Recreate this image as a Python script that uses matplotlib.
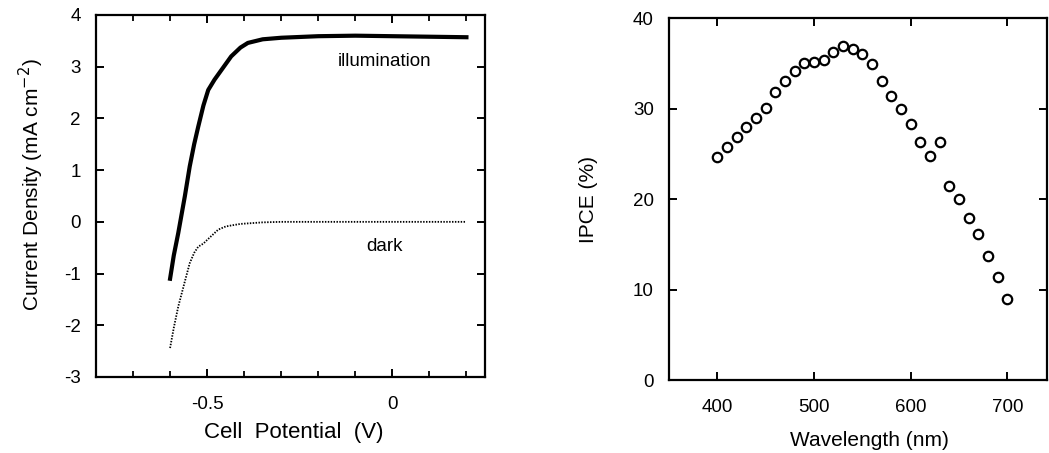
import numpy as np
import matplotlib
matplotlib.use("Agg")
import matplotlib.pyplot as plt
from matplotlib.ticker import MultipleLocator

plt.rcParams['font.family'] = ['Liberation Sans', 'DejaVu Sans']
plt.rcParams['axes.unicode_minus'] = False

# J-V curves
v_illum = [-0.60, -0.59, -0.578, -0.56, -0.547, -0.535, -0.524, -0.51, -0.497,
           -0.48, -0.47, -0.45, -0.435, -0.41, -0.39, -0.35, -0.30, -0.20,
           -0.10, 0.0, 0.1, 0.2]
j_illum = [-1.1, -0.65, -0.22, 0.5, 1.07, 1.5, 1.84, 2.25, 2.55, 2.75, 2.85,
           3.05, 3.2, 3.37, 3.46, 3.53, 3.56, 3.59, 3.6, 3.59, 3.58, 3.57]
v_dark = [-0.60, -0.59, -0.578, -0.56, -0.547, -0.535, -0.524, -0.51, -0.50,
          -0.485, -0.47, -0.45, -0.435, -0.41, -0.39, -0.35, -0.30, 0.2]
j_dark = [-2.44, -2.05, -1.64, -1.15, -0.80, -0.60, -0.48, -0.42, -0.35,
          -0.25, -0.15, -0.09, -0.07, -0.04, -0.03, -0.01, 0.0, 0.0]

# IPCE spectrum
wavelength = np.arange(400, 701, 10)
ipce = [24.6, 25.8, 26.9, 28.0, 28.9, 30.1, 31.8, 33.0, 34.1, 35.0, 35.1,
        35.4, 36.2, 36.9, 36.6, 36.0, 34.9, 33.0, 31.4, 29.9, 28.3, 26.3,
        24.8, 26.3, 21.4, 20.0, 17.9, 16.1, 13.7, 11.4, 9.0]

fig = plt.figure(figsize=(10.49, 4.53), dpi=100)
ax1 = fig.add_axes([0.0915, 0.1678, 0.3708, 0.7991])
ax2 = fig.add_axes([0.6378, 0.1611, 0.3603, 0.7991])

for ax in (ax1, ax2):
    for s in ax.spines.values():
        s.set_linewidth(1.6)
    ax.tick_params(direction="in", top=True, right=True, width=1.4,
                   length=6, labelsize=13.5, pad=11)
    ax.tick_params(which="minor", direction="in", top=True, right=True,
                   width=1.3, length=4)
    ax.tick_params(axis="x", pad=14)

# left panel
ax1.plot(v_illum, j_illum, color="black", lw=3.0)
ax1.plot(v_dark, j_dark, color="black", lw=1.3, ls=(0, (0.8, 0.8)))
ax1.text(-0.02, 3.1, "illumination", fontsize=13.5, ha="center", va="center")
ax1.text(-0.02, -0.48, "dark", fontsize=13.5, ha="center", va="center")
ax1.set_xlim(-0.8, 0.25)
ax1.set_ylim(-3, 4)
ax1.xaxis.set_minor_locator(MultipleLocator(0.1))
ax1.yaxis.set_major_locator(MultipleLocator(1))
ax1.set_xticks([-0.5, 0])
ax1.set_xticklabels(["-0.5", "0"])
ax1.set_xlabel("Cell  Potential  (V)", fontsize=16, va="center")
ax1.xaxis.set_label_coords(0.509, -0.152)
ax1.set_ylabel("Current Density (mA cm$^{-2}$)", fontsize=15, va="center")
ax1.yaxis.set_label_coords(-0.165, 0.53)

# right panel
ax2.scatter(wavelength, ipce, s=46, facecolors="white", edgecolors="black",
            linewidths=1.6, zorder=3)
ax2.set_xlim(350, 741)
ax2.set_ylim(0, 40)
ax2.set_xticks([400, 500, 600, 700])
ax2.set_yticks([0, 10, 20, 30, 40])
ax2.set_xlabel("Wavelength (nm)", fontsize=15, va="center")
ax2.xaxis.set_label_coords(0.53, -0.166)
ax2.set_ylabel("IPCE (%)", fontsize=15, va="center")
ax2.yaxis.set_label_coords(-0.214, 0.5)

fig.savefig("out.png", dpi=100)
